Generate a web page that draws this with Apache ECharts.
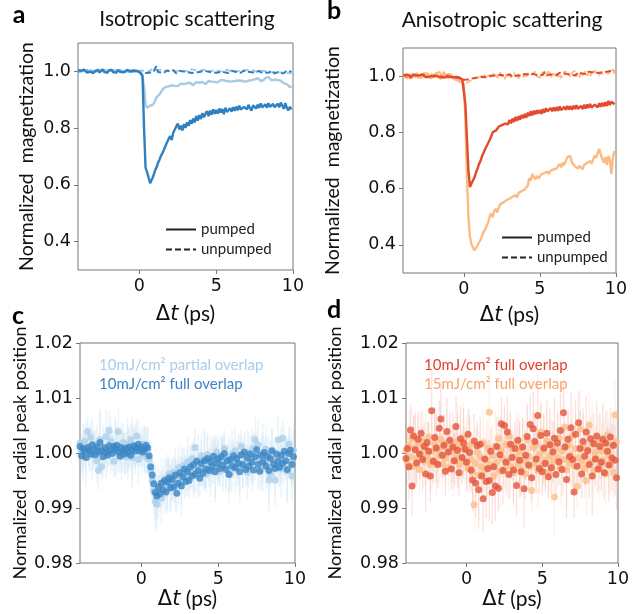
<!DOCTYPE html>
<html>
<head>
<meta charset="utf-8">
<script src="https://cdn.jsdelivr.net/npm/echarts@6/dist/echarts.min.js"></script>
<style>
  html, body { margin: 0; background: #fff; }
  #chart { width: 640px; height: 614px; }
</style>
</head>
<body>
<div id="chart"></div>
<script>
// pump-probe delay (ps), shared by all four panels
const delayPs = [
  -4.0,-3.9,-3.8,-3.7,-3.6,-3.5,-3.4,-3.3,-3.2,-3.1,
  -3.0,-2.9,-2.8,-2.7,-2.6,-2.5,-2.4,-2.3,-2.2,-2.1,
  -2.0,-1.9,-1.8,-1.7,-1.6,-1.5,-1.4,-1.3,-1.2,-1.1,
  -1.0,-0.9,-0.8,-0.7,-0.6,-0.5,-0.4,-0.3,-0.2,-0.1,
  0.0,0.1,0.2,0.3,0.4,0.5,0.6,0.7,0.8,0.9,
  1.0,1.1,1.2,1.3,1.4,1.5,1.6,1.7,1.8,1.9,
  2.0,2.1,2.2,2.3,2.4,2.5,2.6,2.7,2.8,2.9,
  3.0,3.1,3.2,3.3,3.4,3.5,3.6,3.7,3.8,3.9,
  4.0,4.1,4.2,4.3,4.4,4.5,4.6,4.7,4.8,4.9,
  5.0,5.1,5.2,5.3,5.4,5.5,5.6,5.7,5.8,5.9,
  6.0,6.1,6.2,6.3,6.4,6.5,6.6,6.7,6.8,6.9,
  7.0,7.1,7.2,7.3,7.4,7.5,7.6,7.7,7.8,7.9,
  8.0,8.1,8.2,8.3,8.4,8.5,8.6,8.7,8.8,8.9,
  9.0,9.1,9.2,9.3,9.4,9.5,9.6,9.7,9.8,9.9
];

// a: isotropic scattering, normalized magnetization
const isoDarkPumped = [
  1.004,0.997,1.002,0.995,1.006,1.001,0.996,1.003,0.999,1.005,
  0.994,1.002,0.998,1.004,0.996,1.001,1.007,0.998,1.002,0.995,
  1.003,0.999,1.005,0.997,1.002,0.996,1.004,1.000,0.998,1.003,
  0.997,1.002,1.005,0.998,1.001,0.996,1.003,0.999,1.002,0.997,
  0.998,0.995,0.985,0.800,0.660,0.645,0.625,0.606,0.612,0.630,
  0.648,0.660,0.676,0.688,0.702,0.712,0.724,0.738,0.744,0.762,
  0.772,0.758,0.784,0.791,0.806,0.816,0.795,0.809,0.792,0.814,
  0.801,0.820,0.808,0.828,0.815,0.834,0.820,0.843,0.826,0.846,
  0.832,0.853,0.838,0.851,0.860,0.842,0.862,0.847,0.866,0.850,
  0.864,0.851,0.869,0.855,0.867,0.849,0.872,0.857,0.853,0.870,
  0.858,0.874,0.861,0.876,0.863,0.879,0.865,0.858,0.875,0.881,
  0.866,0.882,0.870,0.862,0.880,0.885,0.869,0.883,0.871,0.887,
  0.873,0.867,0.884,0.872,0.888,0.875,0.868,0.885,0.874,0.870,
  0.886,0.873,0.890,0.897,0.868,0.888,0.871,0.863,0.875,0.866
];
const isoLightPumped = [
  1.002,1.005,0.999,1.003,1.006,0.998,1.004,1.001,0.997,1.003,
  1.005,0.999,1.002,1.006,1.000,1.003,0.998,1.004,1.001,0.999,
  1.003,1.006,1.000,1.002,0.998,1.004,1.001,1.005,0.999,1.002,
  1.004,0.999,1.003,1.001,1.006,1.000,1.002,0.998,1.003,1.001,
  1.002,0.999,0.996,0.950,0.880,0.872,0.876,0.879,0.886,0.884,
  0.893,0.908,0.905,0.918,0.927,0.936,0.931,0.945,0.938,0.947,
  0.944,0.951,0.946,0.949,0.954,0.948,0.953,0.957,0.950,0.955,
  0.952,0.958,0.954,0.960,0.955,0.951,0.958,0.962,0.956,0.960,
  0.957,0.963,0.959,0.955,0.961,0.966,0.960,0.964,0.958,0.963,
  0.967,0.961,0.965,0.970,0.963,0.968,0.972,0.966,0.971,0.964,
  0.969,0.965,0.972,0.967,0.962,0.968,0.973,0.966,0.970,0.964,
  0.971,0.967,0.974,0.969,0.965,0.972,0.968,0.976,0.970,0.966,
  0.973,0.969,0.977,0.972,0.980,0.974,0.968,0.975,0.971,0.966,
  0.970,0.964,0.967,0.961,0.958,0.963,0.955,0.951,0.944,0.949
];
const isoDarkUnpumped = [
  0.998,1.004,1.001,0.996,1.003,0.999,1.005,0.997,1.002,1.000,
  1.003,0.997,1.001,1.005,0.998,1.002,0.996,1.004,1.000,0.998,
  1.002,1.005,0.999,1.003,0.997,1.001,1.004,0.998,1.002,0.999,
  1.001,0.997,1.003,0.999,1.002,0.998,1.004,1.000,0.997,1.001,
  0.996,0.993,0.997,0.995,0.999,0.994,0.998,0.996,1.000,0.997,
  1.002,1.018,0.998,1.003,0.996,1.001,0.995,0.999,1.003,0.997,
  1.001,0.996,1.004,0.998,0.993,0.999,1.002,0.996,1.000,0.995,
  0.998,0.992,0.997,1.001,0.994,0.999,0.996,1.002,0.997,0.993,
  0.999,0.995,1.003,0.997,1.000,0.994,0.998,1.002,0.996,0.999,
  0.995,1.001,0.997,0.993,0.999,1.003,0.996,1.000,0.994,0.998,
  1.002,0.996,0.999,0.993,0.997,1.001,0.995,0.998,1.003,0.996,
  0.999,0.994,0.998,1.002,0.996,0.993,0.999,0.995,1.001,0.997,
  0.994,0.999,0.996,1.001,0.995,0.998,1.002,0.996,0.993,0.999,
  0.997,1.001,0.995,0.999,0.993,0.998,1.003,0.996,1.000,0.997
];
const isoLightUnpumped = [
  1.003,0.999,1.005,1.001,0.998,1.004,1.002,0.997,1.003,1.000,
  0.998,1.004,1.000,1.003,1.006,0.999,1.002,0.997,1.004,1.001,
  1.000,1.003,0.998,1.005,1.001,0.999,1.003,1.006,1.000,1.002,
  0.998,1.004,1.001,1.003,0.999,1.005,1.002,1.000,1.004,0.999,
  1.002,1.000,1.003,1.006,1.001,1.004,1.000,1.003,1.007,1.002,
  1.005,1.001,1.004,1.000,1.006,1.002,1.004,1.008,1.001,1.003,
  1.000,1.005,1.002,1.006,1.001,1.003,0.999,1.004,1.002,1.006,
  1.001,1.004,1.000,1.003,1.007,1.002,1.005,1.001,1.003,0.999,
  1.004,1.001,1.006,1.002,1.000,1.004,1.001,1.005,1.002,0.999,
  1.003,1.006,1.001,1.004,1.000,1.003,1.005,1.001,1.004,1.002,
  1.000,1.004,1.002,1.006,1.001,1.003,0.999,1.004,1.001,1.003,
  1.005,1.001,1.003,1.000,1.004,1.002,0.998,1.003,1.001,0.999,
  1.002,0.998,1.001,1.004,0.999,1.002,0.997,1.000,0.998,1.001,
  0.997,1.000,0.996,0.999,0.995,0.998,0.994,0.997,0.993,0.995
];

// b: anisotropic scattering, normalized magnetization
const anisoRedPumped = [
  1.002,0.996,1.004,0.999,1.003,0.995,1.001,1.005,0.998,1.002,
  0.997,1.003,0.999,1.006,1.001,0.996,1.002,0.998,1.004,1.000,
  0.996,1.002,1.005,0.999,1.003,0.997,1.001,0.995,1.002,0.999,
  1.003,0.998,1.002,0.996,1.001,0.997,0.993,0.995,0.990,0.988,
  0.982,0.900,0.780,0.665,0.606,0.618,0.614,0.640,0.658,0.671,
  0.688,0.699,0.716,0.722,0.741,0.746,0.762,0.773,0.786,0.801,
  0.794,0.806,0.812,0.821,0.815,0.826,0.819,0.831,0.824,0.829,
  0.844,0.832,0.849,0.837,0.855,0.841,0.858,0.845,0.862,0.850,
  0.866,0.852,0.870,0.858,0.875,0.860,0.877,0.864,0.879,0.867,
  0.880,0.866,0.883,0.870,0.886,0.874,0.868,0.887,0.875,0.889,
  0.876,0.890,0.877,0.892,0.879,0.873,0.891,0.880,0.894,0.881,
  0.893,0.880,0.895,0.883,0.897,0.884,0.878,0.894,0.883,0.898,
  0.885,0.899,0.887,0.901,0.888,0.882,0.899,0.903,0.889,0.904,
  0.891,0.905,0.893,0.907,0.894,0.912,0.897,0.909,0.914,0.900
];
const anisoOrangePumped = [
  1.006,0.994,1.010,0.999,1.004,0.991,1.008,1.002,0.996,1.012,
  0.998,1.005,0.993,1.009,1.001,0.995,1.011,0.997,1.004,0.992,
  1.007,0.999,1.013,0.996,1.003,0.990,1.006,1.015,0.998,1.004,
  0.993,1.008,0.997,1.003,0.989,0.996,0.986,0.991,0.982,0.979,
  0.972,0.850,0.650,0.500,0.430,0.402,0.391,0.380,0.386,0.398,
  0.410,0.418,0.433,0.447,0.455,0.468,0.480,0.502,0.512,0.498,
  0.521,0.529,0.515,0.534,0.545,0.538,0.551,0.546,0.559,0.552,
  0.564,0.558,0.571,0.566,0.577,0.569,0.585,0.579,0.591,0.584,
  0.598,0.592,0.610,0.637,0.628,0.652,0.641,0.633,0.645,0.636,
  0.642,0.651,0.644,0.656,0.649,0.660,0.652,0.664,0.657,0.668,
  0.661,0.672,0.665,0.688,0.676,0.692,0.684,0.698,0.712,0.706,
  0.716,0.694,0.688,0.679,0.686,0.672,0.681,0.676,0.669,0.684,
  0.678,0.691,0.684,0.698,0.689,0.704,0.718,0.709,0.726,0.741,
  0.722,0.705,0.692,0.712,0.684,0.716,0.701,0.652,0.712,0.734
];
const anisoRedUnpumped = [
  0.999,1.003,0.997,1.002,1.005,0.998,1.001,0.996,1.004,1.000,
  1.002,0.997,1.004,0.999,1.001,1.005,0.998,1.002,0.996,1.003,
  0.998,1.002,1.000,1.004,0.997,1.001,1.003,0.998,1.002,0.999,
  1.001,0.996,1.002,0.998,0.995,0.993,0.990,0.988,0.986,0.985,
  0.987,0.984,0.988,0.986,0.990,0.987,0.992,0.989,0.994,0.991,
  0.996,0.993,0.998,1.001,0.996,1.003,0.999,1.005,1.001,1.006,
  1.002,1.007,1.003,0.999,1.005,1.009,1.002,1.006,1.001,1.004,
  1.007,1.002,0.998,1.005,1.001,1.008,1.003,1.006,1.000,1.004,
  1.008,1.003,1.006,1.001,1.009,1.004,1.007,1.011,1.004,1.008,
  1.003,1.010,1.005,1.014,1.007,1.004,1.009,1.006,1.012,1.005,
  1.009,1.003,1.007,1.012,1.006,1.010,1.004,1.008,1.013,1.007,
  1.011,1.005,1.009,1.002,1.008,1.013,1.006,1.010,1.015,1.008,
  1.012,1.007,1.016,1.010,1.014,1.008,1.013,1.018,1.011,1.016,
  1.013,1.019,1.014,1.020,1.016,1.012,1.018,1.022,1.017,1.020
];
const anisoOrangeUnpumped = [
  1.008,0.995,1.004,0.990,1.011,1.001,0.993,1.009,0.997,1.006,
  0.992,1.010,1.003,0.996,1.014,0.999,1.006,0.991,1.004,0.997,
  1.012,0.994,1.007,1.001,1.016,1.022,0.996,1.009,0.993,1.005,
  0.998,1.011,0.992,1.003,0.987,0.995,0.983,0.990,0.978,0.984,
  0.974,0.981,0.976,0.970,0.983,0.979,0.988,0.982,0.993,0.986,
  0.997,0.990,1.002,0.994,1.006,0.998,0.991,1.004,0.996,1.008,
  0.999,1.011,0.993,1.005,1.013,0.997,1.002,0.990,1.007,1.000,
  1.009,0.995,1.003,1.012,0.998,1.006,0.992,1.004,1.010,0.997,
  1.005,0.993,1.011,1.000,0.996,1.008,1.002,1.015,0.999,1.006,
  0.994,1.009,1.003,1.016,0.998,1.012,1.021,1.004,0.995,1.010,
  1.001,1.014,0.997,1.008,0.993,1.011,1.004,1.017,1.000,1.009,
  0.996,1.012,1.005,1.019,0.999,1.007,0.994,1.015,1.003,1.010,
  1.018,1.002,1.011,0.998,1.014,1.006,1.021,1.009,1.016,1.004,
  1.012,1.019,1.007,1.015,1.022,1.009,1.017,1.011,1.024,1.008
];

// c: normalized radial peak position, 10 mJ/cm2
const partialOverlap10 = [
  1.0018,1.0003,0.9994,1.0021,1.0007,1.0039,1.0012,1.0028,0.9996,1.0009,
  1.0015,0.9986,0.9968,1.0024,0.9975,1.0011,0.9998,1.0030,1.0006,1.0041,
  1.0022,1.0008,0.9985,1.0013,1.0003,1.0039,1.0010,0.9996,1.0019,1.0001,
  0.9993,1.0016,1.0005,1.0025,0.9992,1.0009,1.0012,1.0031,0.9988,1.0013,
  0.9998,1.0016,1.0006,0.9993,1.0011,0.9989,0.9968,0.9950,0.9931,0.9912,
  0.9907,0.9921,0.9935,0.9918,0.9946,0.9929,0.9953,0.9940,0.9962,0.9936,
  0.9951,0.9965,0.9942,0.9958,0.9973,0.9949,0.9961,0.9977,0.9955,0.9970,
  0.9984,0.9962,0.9976,0.9990,0.9967,1.0010,0.9959,0.9987,0.9973,0.9995,
  0.9971,0.9988,0.9962,0.9997,0.9979,0.9966,0.9992,0.9983,0.9975,1.0002,
  0.9981,0.9967,0.9995,0.9986,1.0008,0.9974,0.9991,0.9980,0.9963,0.9998,
  0.9985,1.0004,0.9972,0.9993,0.9981,1.0012,0.9976,0.9997,0.9988,0.9965,
  1.0001,0.9983,0.9994,1.0009,1.0024,0.9996,1.0015,0.9987,0.9970,0.9999,
  0.9986,1.0007,0.9975,0.9951,0.9962,1.0003,0.9989,0.9951,0.9979,1.0024,
  0.9992,0.9971,1.0027,0.9985,0.9998,0.9967,1.0016,0.9983,0.9958,1.0005
];
const fullOverlap10 = [
  1.0012,0.9995,1.0008,1.0003,0.9992,1.0010,1.0004,0.9998,1.0015,1.0006,
  0.9997,1.0011,1.0002,1.0019,1.0004,0.9993,1.0009,1.0001,0.9996,1.0013,
  1.0005,0.9999,1.0012,1.0007,1.0014,1.0002,0.9994,1.0010,1.0005,0.9998,
  1.0008,1.0001,1.0011,0.9996,1.0006,1.0013,1.0003,1.0009,1.0016,1.0004,
  1.0010,1.0002,1.0007,1.0014,1.0009,0.9995,0.9975,0.9960,0.9944,0.9928,
  0.9922,0.9938,0.9926,0.9945,0.9933,0.9950,0.9929,0.9947,0.9955,0.9937,
  0.9952,0.9938,0.9960,0.9927,0.9945,0.9964,0.9940,0.9957,0.9971,0.9948,
  0.9966,0.9950,0.9975,0.9958,0.9979,0.9962,0.9985,0.9968,0.9954,0.9981,
  0.9963,0.9986,0.9971,0.9990,0.9968,0.9984,0.9975,0.9994,0.9966,0.9982,
  0.9989,0.9972,0.9993,0.9978,0.9999,0.9970,0.9986,0.9961,0.9988,0.9976,
  0.9995,0.9973,0.9990,0.9981,0.9966,0.9997,0.9979,1.0002,0.9970,0.9991,
  0.9976,0.9998,0.9983,0.9969,0.9993,1.0006,0.9979,0.9967,0.9996,0.9984,
  1.0001,0.9977,0.9994,0.9968,0.9990,1.0004,0.9980,0.9972,0.9998,0.9985,
  0.9974,0.9996,0.9981,1.0003,0.9986,0.9970,0.9999,1.0005,0.9979,0.9993
];
const errC = [
  0.0034,0.0028,0.0045,0.0031,0.0052,0.0026,0.0038,0.0030,0.0047,0.0033,
  0.0029,0.0041,0.0035,0.0056,0.0027,0.0039,0.0032,0.0048,0.0030,0.0036,
  0.0044,0.0031,0.0027,0.0053,0.0035,0.0040,0.0029,0.0046,0.0033,0.0038,
  0.0030,0.0049,0.0036,0.0028,0.0058,0.0034,0.0041,0.0031,0.0045,0.0027,
  0.0035,0.0029,0.0043,0.0032,0.0038,0.0030,0.0047,0.0036,0.0041,0.0052,
  0.0044,0.0038,0.0033,0.0046,0.0029,0.0040,0.0035,0.0051,0.0031,0.0042,
  0.0037,0.0028,0.0049,0.0034,0.0040,0.0030,0.0055,0.0033,0.0038,0.0027,
  0.0045,0.0032,0.0039,0.0029,0.0050,0.0036,0.0031,0.0047,0.0034,0.0041,
  0.0028,0.0053,0.0035,0.0040,0.0030,0.0046,0.0033,0.0038,0.0057,0.0031,
  0.0042,0.0029,0.0037,0.0048,0.0032,0.0039,0.0027,0.0052,0.0035,0.0044,
  0.0031,0.0046,0.0034,0.0040,0.0056,0.0030,0.0043,0.0036,0.0029,0.0049,
  0.0038,0.0033,0.0051,0.0028,0.0042,0.0035,0.0047,0.0031,0.0039,0.0054,
  0.0030,0.0044,0.0036,0.0059,0.0032,0.0041,0.0034,0.0048,0.0029,0.0045,
  0.0037,0.0052,0.0031,0.0043,0.0035,0.0058,0.0033,0.0040,0.0046,0.0050
];

// d: normalized radial peak position, full overlap
const fullOverlap10d = [
  0.9990,1.0008,0.9975,1.0042,0.9940,1.0031,1.0006,0.9982,1.0025,0.9998,
  1.0036,0.9988,1.0012,0.9962,1.0019,1.0003,0.9958,1.0077,0.9985,1.0028,
  1.0009,0.9979,1.0045,1.0062,0.9996,1.0014,0.9967,1.0039,1.0002,1.0023,
  0.9971,1.0011,0.9986,1.0048,1.0005,0.9964,1.0026,0.9992,1.0018,1.0007,
  0.9983,1.0034,1.0001,0.9969,0.9951,1.0022,0.9945,1.0013,0.9933,1.0016,
  0.9958,0.9917,0.9989,0.9948,0.9972,0.9950,1.0003,0.9928,0.9975,0.9940,
  1.0012,0.9936,0.9997,1.0053,0.9968,1.0050,0.9983,1.0038,0.9961,1.0016,
  0.9992,0.9969,1.0008,0.9941,1.0023,0.9987,0.9966,1.0011,0.9935,0.9996,
  1.0030,0.9978,1.0052,0.9955,1.0044,1.0021,0.9989,1.0068,0.9972,1.0032,
  0.9966,1.0009,0.9981,1.0036,0.9957,1.0015,0.9973,1.0002,1.0027,0.9961,
  1.0018,0.9984,1.0041,0.9970,1.0073,1.0011,0.9952,1.0025,0.9993,1.0046,
  0.9988,0.9929,1.0034,0.9976,1.0055,1.0008,0.9962,1.0021,0.9994,1.0038,
  1.0004,0.9979,1.0026,0.9958,1.0017,0.9989,1.0031,0.9971,1.0012,0.9983,
  1.0025,0.9964,1.0018,1.0003,0.9978,1.0029,0.9991,1.0014,0.9987,0.9955
];
const fullOverlap15d = [
  1.0005,0.9981,1.0014,0.9993,1.0026,0.9976,1.0008,0.9989,1.0017,0.9970,
  0.9998,1.0021,0.9985,1.0010,0.9992,1.0029,0.9979,1.0003,0.9987,1.0016,
  0.9982,1.0007,0.9995,1.0024,0.9980,1.0012,0.9991,1.0019,0.9973,1.0004,
  1.0015,0.9986,1.0009,0.9997,1.0022,0.9978,1.0011,0.9990,1.0027,0.9984,
  1.0006,0.9972,1.0013,0.9988,0.9965,0.9906,0.9981,1.0002,0.9960,0.9993,
  0.9975,1.0018,0.9969,0.9987,1.0009,1.0074,0.9978,0.9995,0.9958,1.0012,
  0.9983,1.0026,0.9967,1.0004,0.9990,0.9971,1.0015,0.9985,1.0031,0.9976,
  1.0008,0.9964,0.9993,1.0019,0.9980,1.0002,0.9970,1.0011,0.9987,0.9962,
  1.0024,0.9993,0.9975,0.9932,1.0010,0.9981,1.0016,0.9968,0.9997,1.0038,
  0.9979,1.0005,0.9987,1.0022,0.9966,0.9995,1.0013,0.9984,0.9920,1.0009,
  0.9991,1.0027,0.9974,1.0003,0.9988,1.0047,0.9969,1.0014,0.9982,0.9996,
  1.0032,0.9977,1.0008,0.9939,0.9991,1.0043,0.9985,1.0010,0.9972,0.9950,
  1.0006,1.0051,0.9983,1.0019,0.9968,1.0001,0.9989,1.0023,0.9975,1.0004,
  0.9987,1.0016,0.9962,1.0033,0.9996,0.9978,1.0012,0.9965,1.0069,1.0021
];
const errD = [
  0.0048,0.0039,0.0062,0.0044,0.0055,0.0037,0.0066,0.0042,0.0051,0.0046,
  0.0040,0.0058,0.0045,0.0069,0.0038,0.0053,0.0047,0.0072,0.0041,0.0056,
  0.0063,0.0043,0.0050,0.0067,0.0039,0.0057,0.0046,0.0061,0.0044,0.0052,
  0.0038,0.0065,0.0049,0.0055,0.0070,0.0042,0.0059,0.0047,0.0064,0.0040,
  0.0053,0.0046,0.0068,0.0041,0.0057,0.0049,0.0062,0.0044,0.0071,0.0050,
  0.0045,0.0060,0.0039,0.0066,0.0052,0.0074,0.0043,0.0058,0.0048,0.0063,
  0.0054,0.0041,0.0069,0.0047,0.0061,0.0038,0.0056,0.0065,0.0044,0.0059,
  0.0042,0.0063,0.0050,0.0057,0.0040,0.0068,0.0046,0.0053,0.0072,0.0045,
  0.0060,0.0048,0.0055,0.0043,0.0067,0.0051,0.0062,0.0070,0.0047,0.0058,
  0.0044,0.0064,0.0052,0.0059,0.0041,0.0066,0.0049,0.0056,0.0073,0.0046,
  0.0057,0.0043,0.0068,0.0050,0.0061,0.0045,0.0070,0.0054,0.0040,0.0065,
  0.0051,0.0047,0.0063,0.0039,0.0058,0.0069,0.0044,0.0060,0.0053,0.0067,
  0.0046,0.0062,0.0040,0.0071,0.0055,0.0048,0.0064,0.0043,0.0059,0.0052,
  0.0066,0.0049,0.0057,0.0045,0.0068,0.0054,0.0061,0.0047,0.0063,0.0058
];

// axis ticks
const delayTicks = [0, 5, 10];
const magnetTicks = [0.4, 0.6, 0.8, 1.0];
const peakTicks = [0.98, 0.99, 1.00, 1.01, 1.02];

const chart = echarts.init(document.getElementById('chart'));

const tickFont = { fontFamily: 'DejaVu Sans', fontSize: 17.5, color: '#111' };
const nameFont = 'Lato';
const frame = '#777';

function pairs(ys) {
  return delayPs.map((t, i) => [t, ys[i]]);
}
function withErr(ys, errs) {
  return delayPs.map((t, i) => [t, ys[i], errs[i]]);
}

function xAxisFor(gridIndex, gap) {
  return {
    type: 'value', gridIndex: gridIndex, min: -4, max: 10,
    name: '{d|Δ}{t|t}{p| (ps)}', nameLocation: 'middle', nameGap: gap,
    nameTextStyle: {
      rich: {
        d: { fontFamily: 'DejaVu Sans', fontSize: 21, color: '#111' },
        t: { fontFamily: 'DejaVu Sans', fontStyle: 'italic', fontSize: 21, color: '#111' },
        p: { fontFamily: nameFont, fontSize: 21, color: '#111' }
      }
    },
    axisLine: { show: false, onZero: false },
    axisTick: { show: true, length: 4, customValues: delayTicks, lineStyle: { color: frame } },
    axisLabel: Object.assign({ customValues: delayTicks, margin: 7 }, tickFont),
    splitLine: { show: false }
  };
}

function yAxisFor(gridIndex, min, max, ticks, digits, label, gap, size) {
  return {
    type: 'value', gridIndex: gridIndex, min: min, max: max,
    name: label, nameLocation: 'middle', nameGap: gap,
    nameTextStyle: { fontFamily: nameFont, fontSize: size, color: '#111' },
    axisLine: { show: false, onZero: false },
    axisTick: { show: true, length: 4, customValues: ticks, lineStyle: { color: frame } },
    axisLabel: Object.assign({
      customValues: ticks, margin: 7,
      formatter: function (v) { return v.toFixed(digits); }
    }, tickFont),
    splitLine: { show: false }
  };
}

function trace(name, idx, ys, color, dashed) {
  return {
    name: name, type: 'line', xAxisIndex: idx, yAxisIndex: idx,
    data: pairs(ys), symbol: 'none', smooth: false, silent: true,
    lineStyle: { color: color, width: dashed ? 2 : 2.4, type: dashed ? [6, 3] : 'solid' },
    z: dashed ? 2 : 3
  };
}

function errorBars(idx, ys, errs, color, width) {
  return {
    type: 'custom', xAxisIndex: idx, yAxisIndex: idx, silent: true,
    data: withErr(ys, errs), encode: { x: 0, y: 1 }, clip: true, z: 1,
    renderItem: function (params, api) {
      const t = api.value(0), v = api.value(1), e = api.value(2);
      const hi = api.coord([t, v + e]);
      const lo = api.coord([t, v - e]);
      return {
        type: 'line',
        shape: { x1: hi[0], y1: hi[1], x2: lo[0], y2: lo[1] },
        style: { stroke: color, lineWidth: width }
      };
    }
  };
}

function dots(name, idx, ys, color, z) {
  return {
    name: name, type: 'scatter', xAxisIndex: idx, yAxisIndex: idx,
    data: pairs(ys), symbol: 'circle', symbolSize: 7, silent: true,
    itemStyle: { color: color }, z: z
  };
}

const legendFont = { fontFamily: nameFont, fontSize: 15 };
const keyLegend = {
  data: ['pumped', 'unpumped'], orient: 'vertical',
  itemWidth: 30, itemHeight: 14, itemGap: 5, selectedMode: false,
  itemStyle: { color: 'rgba(0,0,0,0)', borderColor: 'rgba(0,0,0,0)', borderWidth: 0 },
  textStyle: { fontFamily: nameFont, fontSize: 15, color: '#222' }
};

const option = {
  animation: false,
  backgroundColor: '#fff',
  grid: [
    { left: 78, top: 43, width: 215, height: 227, show: true, borderColor: frame, borderWidth: 1, backgroundColor: '#fff' },
    { left: 403, top: 48, width: 213, height: 225, show: true, borderColor: frame, borderWidth: 1, backgroundColor: '#fff' },
    { left: 80, top: 343, width: 215, height: 220, show: true, borderColor: frame, borderWidth: 1, backgroundColor: '#fff' },
    { left: 406, top: 343, width: 212, height: 220, show: true, borderColor: frame, borderWidth: 1, backgroundColor: '#fff' }
  ],
  xAxis: [xAxisFor(0, 34), xAxisFor(1, 32), xAxisFor(2, 22), xAxisFor(3, 22)],
  yAxis: [
    yAxisFor(0, 0.3, 1.1, magnetTicks, 1, 'Normalized  magnetization', 41, 19.5),
    yAxisFor(1, 0.3, 1.1, magnetTicks, 1, 'Normalized  magnetization', 60, 19.5),
    yAxisFor(2, 0.98, 1.02, peakTicks, 2, 'Normalized  radial peak position', 51, 18),
    yAxisFor(3, 0.98, 1.02, peakTicks, 2, 'Normalized  radial peak position', 62, 18)
  ],
  legend: [
    Object.assign({ left: 160, top: 217 }, keyLegend),
    Object.assign({ left: 496, top: 225 }, keyLegend),
    {
      data: [
        { name: '10mJ/cm² partial overlap', textStyle: { color: '#a9cde9' } },
        { name: '10mJ/cm² full overlap', textStyle: { color: '#3d83c6' } }
      ],
      left: 89, top: 353, orient: 'vertical', itemWidth: 0, itemHeight: 0, itemGap: 4,
      selectedMode: false, textStyle: legendFont
    },
    {
      data: [
        { name: '10mJ/cm² full overlap ', textStyle: { color: '#e23f2c' } },
        { name: '15mJ/cm² full overlap', textStyle: { color: '#f8a467' } }
      ],
      left: 414, top: 353, orient: 'vertical', itemWidth: 0, itemHeight: 0, itemGap: 4,
      selectedMode: false, textStyle: legendFont
    }
  ],
  graphic: [
    { type: 'text', x: 19, y: 15, style: { text: 'a', fontFamily: nameFont, fontWeight: 'bold', fontSize: 25, fill: '#000', align: 'center', verticalAlign: 'middle' } },
    { type: 'text', x: 334, y: 11, style: { text: 'b', fontFamily: nameFont, fontWeight: 'bold', fontSize: 25, fill: '#000', align: 'center', verticalAlign: 'middle' } },
    { type: 'text', x: 18, y: 316, style: { text: 'c', fontFamily: nameFont, fontWeight: 'bold', fontSize: 25, fill: '#000', align: 'center', verticalAlign: 'middle' } },
    { type: 'text', x: 334, y: 310, style: { text: 'd', fontFamily: nameFont, fontWeight: 'bold', fontSize: 25, fill: '#000', align: 'center', verticalAlign: 'middle' } },
    { type: 'text', x: 187, y: 19, style: { text: 'Isotropic scattering', fontFamily: nameFont, fontSize: 21, fill: '#111', align: 'center', verticalAlign: 'middle' } },
    { type: 'text', x: 502, y: 20, style: { text: 'Anisotropic scattering', fontFamily: nameFont, fontSize: 21, fill: '#111', align: 'center', verticalAlign: 'middle' } }
  ],
  series: [
    // legend keys for the line styles
    { name: 'pumped', type: 'line', xAxisIndex: 0, yAxisIndex: 0, data: [], symbol: 'none', color: '#222', lineStyle: { color: '#222', width: 2 } },
    { name: 'unpumped', type: 'line', xAxisIndex: 0, yAxisIndex: 0, data: [], symbol: 'none', color: '#222', lineStyle: { color: '#222', width: 2, type: [6, 3] } },

    // a
    trace('iso light unpumped', 0, isoLightUnpumped, '#a6cbe6', true),
    trace('iso dark unpumped', 0, isoDarkUnpumped, '#3080c0', true),
    trace('iso light pumped', 0, isoLightPumped, '#a6cbe6', false),
    trace('iso dark pumped', 0, isoDarkPumped, '#3080c0', false),

    // b
    trace('aniso orange unpumped', 1, anisoOrangeUnpumped, '#fdbb82', true),
    trace('aniso red unpumped', 1, anisoRedUnpumped, '#e34a2e', true),
    trace('aniso orange pumped', 1, anisoOrangePumped, '#fdbb82', false),
    trace('aniso red pumped', 1, anisoRedPumped, '#e34a2e', false),

    // c
    errorBars(2, partialOverlap10, errC, 'rgba(170,208,232,0.22)', 1.6),
    errorBars(2, fullOverlap10, errC, 'rgba(170,208,232,0.22)', 1.6),
    dots('10mJ/cm² partial overlap', 2, partialOverlap10, '#aed0ea', 3),
    dots('10mJ/cm² full overlap', 2, fullOverlap10, '#3a86c4', 4),

    // d
    errorBars(3, fullOverlap15d, errD, 'rgba(250,200,160,0.25)', 1.2),
    errorBars(3, fullOverlap10d, errD, 'rgba(230,130,120,0.26)', 1.2),
    dots('15mJ/cm² full overlap', 3, fullOverlap15d, '#fdbe87', 3),
    dots('10mJ/cm² full overlap ', 3, fullOverlap10d, '#e4553b', 4)
  ]
};

chart.setOption(option);
</script>
</body>
</html>
